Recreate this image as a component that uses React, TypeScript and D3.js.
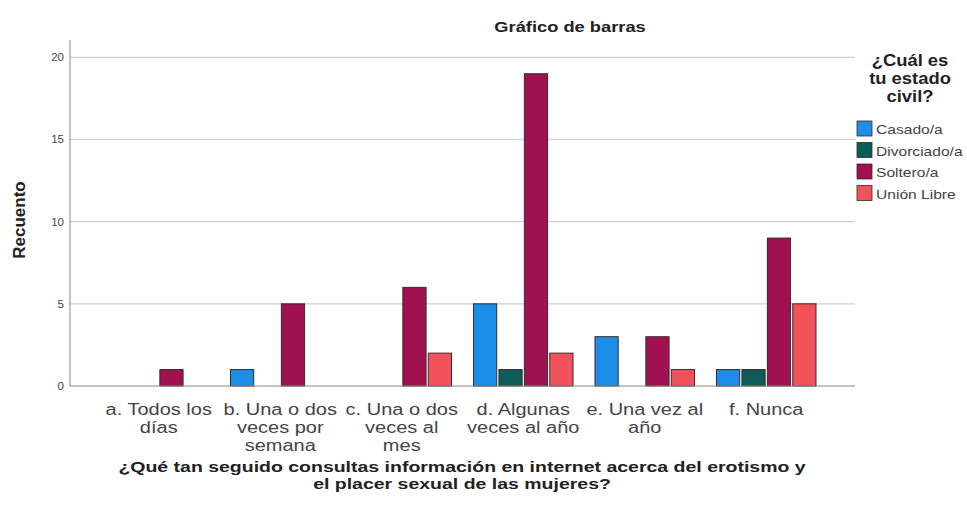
import React from "react";
import * as d3 from "d3";

const categories = [
  ["a. Todos los", "días"],
  ["b. Una o dos", "veces por", "semana"],
  ["c. Una o dos", "veces al", "mes"],
  ["d. Algunas", "veces al año"],
  ["e. Una vez al", "año"],
  ["f. Nunca"],
];
const seriesNames = ["Casado/a", "Divorciado/a", "Soltero/a", "Unión Libre"];
const seriesColors = ["#1b8fe8", "#0d5c57", "#a0124f", "#f2535a"];
const casado = [0, 1, 0, 5, 3, 1];
const divorciado = [0, 0, 0, 1, 0, 1];
const soltero = [1, 5, 6, 19, 3, 9];
const unionLibre = [0, 0, 2, 2, 1, 5];
const yTicks = [0, 5, 10, 15, 20];
const xTitle = ["¿Qué tan seguido consultas información en internet acerca del erotismo y", "el placer sexual de las mujeres?"];
const legendTitle = ["¿Cuál es", "tu estado", "civil?"];

const seriesValues = [casado, divorciado, soltero, unionLibre];

function SText({ x, y, sx = 1, children, ...rest }: any) {
  return (
    <g transform={`translate(${x},${y}) scale(${sx},1)`}>
      <text x={0} y={0} {...rest}>{children}</text>
    </g>
  );
}

export default function App() {
  const W = 967, H = 517;
  const left = 70, right = 855, top = 40, bottom = 386;
  const x = d3.scaleBand<number>().domain(d3.range(categories.length)).range([109, 816]).paddingInner(0.181).paddingOuter(0);
  const xs = d3.scaleBand<number>().domain(d3.range(4)).range([0, x.bandwidth()]).paddingInner(0.087);
  const y = d3.scaleLinear().domain([0, 20]).range([bottom, 57.3]);
  const font = "'Liberation Sans', Arial, sans-serif";
  return (
    <svg width={W} height={H} style={{ position: "absolute", left: 0, top: 0, background: "#fff" }} fontFamily={font}>
      <rect width={W} height={H} fill="#fff" />
      <SText x={570} y={32} sx={1.22} textAnchor="middle" fontSize={15} fontWeight="bold" fill="#222">Gráfico de barras</SText>
      {yTicks.filter(t => t > 0).map(t => (
        <line key={t} x1={left} x2={right} y1={y(t)} y2={y(t)} stroke="#cfcfcf" strokeWidth={1.2} />
      ))}
      {yTicks.map(t => (
        <text key={t} x={64} y={y(t) + 4} textAnchor="end" fontSize={11.5} fill="#444">{t}</text>
      ))}
      <text transform={`translate(25,${220}) rotate(-90)`} textAnchor="middle" fontSize={17} fontWeight="bold" fill="#222">Recuento</text>
      {categories.map((c, i) =>
        seriesValues.map((vals, s) =>
          vals[i] > 0 ? (
            <rect key={`${i}-${s}`} x={(x(i) as number) + (xs(s) as number)} y={y(vals[i])} width={xs.bandwidth()} height={bottom - y(vals[i])}
              fill={seriesColors[s]} stroke="#3a2a2a" strokeWidth={1} />
          ) : null
        )
      )}
      <line x1={left} x2={left} y1={top} y2={bottom} stroke="#888" strokeWidth={1} />
      <line x1={left} x2={right} y1={bottom} y2={bottom} stroke="#888" strokeWidth={1} />
      {categories.map((c, i) =>
        c.map((line, j) => (
          <SText key={`${i}-${j}`} x={(x(i) as number) + x.bandwidth() / 2} y={415 + j * 18} sx={1.25}
            textAnchor="middle" fontSize={16} fill="#444">{line}</SText>
        ))
      )}
      {xTitle.map((t, j) => (
        <SText key={j} x={462} y={472 + j * 17} sx={1.3} textAnchor="middle" fontSize={15} fontWeight="bold" fill="#222">{t}</SText>
      ))}
      {legendTitle.map((t, j) => (
        <SText key={j} x={910} y={66 + j * 18} sx={1.15} textAnchor="middle" fontSize={16} fontWeight="bold" fill="#222">{t}</SText>
      ))}
      {seriesNames.map((n, i) => (
        <g key={n} transform={`translate(857,${121 + i * 21.5})`}>
          <rect width={15} height={15} fill={seriesColors[i]} stroke="#3a2a2a" strokeWidth={0.8} />
          <SText x={19} y={13} sx={1.2} fontSize={13} fill="#444">{n}</SText>
        </g>
      ))}
    </svg>
  );
}
